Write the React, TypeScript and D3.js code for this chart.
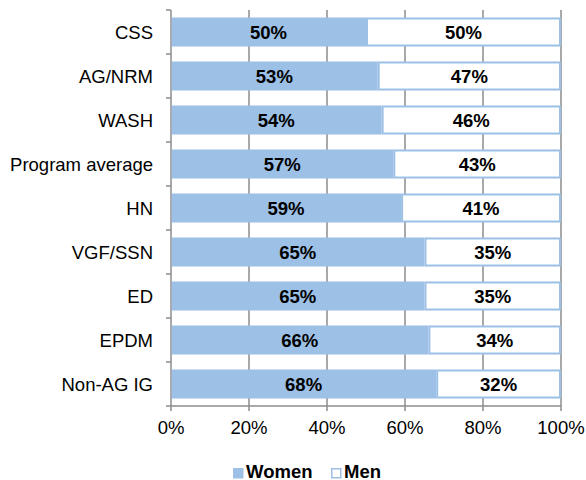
import { useEffect, useRef } from 'react'
import * as d3 from 'd3'

const categories = ['CSS', 'AG/NRM', 'WASH', 'Program average', 'HN', 'VGF/SSN', 'ED', 'EPDM', 'Non-AG IG']
const women = [50, 53, 54, 57, 59, 65, 65, 66, 68]
const men = [50, 47, 46, 43, 41, 35, 35, 34, 32]
const xTicks = [0, 20, 40, 60, 80, 100]
const seriesNames = ['Women', 'Men']

const BLUE = '#9dc0e6'
const GRID = '#8c8c8c'
const FONT = 'Liberation Sans, Arial, sans-serif'
const FS = '18.5px'

const App = () => {
  const svgRef = useRef<SVGSVGElement>(null)
  const width = 586
  const height = 480
  const margin = { top: 10, left: 171, right: 25, bottom: 74 }

  useEffect(() => {
    const svgEl = d3.select(svgRef.current)
    svgEl.selectAll('*').remove()

    const innerW = width - margin.left - margin.right
    const innerH = height - margin.top - margin.bottom

    const x = d3.scaleLinear().domain([0, 100]).range([0, innerW])
    const y = d3.scaleBand().domain(categories).range([0, innerH]).paddingInner(0.34).paddingOuter(0.17)

    const svg = svgEl.append('g').attr('transform', `translate(${margin.left},${margin.top})`)

    // Vertical gridlines
    svg
      .selectAll('.grid')
      .data(xTicks.slice(1))
      .enter()
      .append('line')
      .attr('x1', (d) => x(d))
      .attr('x2', (d) => x(d))
      .attr('y1', 0)
      .attr('y2', innerH + 5)
      .attr('stroke', GRID)
      .attr('stroke-width', 1.5)

    // Left axis with category boundary ticks
    svg.append('line').attr('x1', 0).attr('x2', 0).attr('y1', 0).attr('y2', innerH + 5).attr('stroke', GRID).attr('stroke-width', 1.5)
    const step = y.step()
    svg
      .selectAll('.ytick')
      .data(d3.range(categories.length + 1))
      .enter()
      .append('line')
      .attr('x1', -5)
      .attr('x2', 0)
      .attr('y1', (i) => i * step)
      .attr('y2', (i) => i * step)
      .attr('stroke', GRID)
      .attr('stroke-width', 1.5)
    // Bottom axis
    svg.append('line').attr('x1', 0).attr('x2', innerW).attr('y1', innerH).attr('y2', innerH).attr('stroke', GRID).attr('stroke-width', 1.5)

    // Women bars
    svg
      .selectAll('.women')
      .data(categories)
      .enter()
      .append('rect')
      .attr('x', 0.75)
      .attr('y', (d) => y(d)!)
      .attr('width', (d, i) => x(women[i]) - 0.75)
      .attr('height', y.bandwidth())
      .attr('fill', BLUE)

    // Men bars
    svg
      .selectAll('.men')
      .data(categories)
      .enter()
      .append('rect')
      .attr('x', (d, i) => x(women[i]) + 1)
      .attr('y', (d) => y(d)! + 1)
      .attr('width', (d, i) => x(men[i]) - 2)
      .attr('height', y.bandwidth() - 2)
      .attr('fill', '#fff')
      .attr('stroke', BLUE)
      .attr('stroke-width', 2)

    // Value and category labels
    categories.forEach((c, i) => {
      const cy = y(c)! + y.bandwidth() / 2
      const addLabel = (lx: number, txt: string, bold: boolean, anchor: string) =>
        svg
          .append('text')
          .attr('x', lx)
          .attr('y', cy + 6.5)
          .attr('text-anchor', anchor)
          .style('font-family', FONT)
          .style('font-weight', bold ? 'bold' : 'normal')
          .style('font-size', FS)
          .style('fill', '#000')
          .text(txt)
      addLabel(x(women[i] / 2), women[i] + '%', true, 'middle')
      addLabel(x(women[i] + men[i] / 2), men[i] + '%', true, 'middle')
      addLabel(-18, c, false, 'end')
    })

    // X tick labels
    svg
      .selectAll('.xlab')
      .data(xTicks)
      .enter()
      .append('text')
      .attr('x', (d) => x(d))
      .attr('y', innerH + 28)
      .attr('text-anchor', 'middle')
      .style('font-family', FONT)
      .style('font-size', FS)
      .style('fill', '#000')
      .text((d) => d + '%')

    // Legend
    const legend = svgEl.append('g').attr('transform', 'translate(233, 468)')
    const legendX = [0, 98]
    seriesNames.forEach((name, i) => {
      legend
        .append('rect')
        .attr('x', legendX[i] + 0.75)
        .attr('y', 0.75)
        .attr('width', 9)
        .attr('height', 9)
        .attr('fill', i === 0 ? BLUE : '#fff')
        .attr('stroke', BLUE)
        .attr('stroke-width', 1.5)
      legend
        .append('text')
        .attr('x', legendX[i] + 13)
        .attr('y', 9.5)
        .style('font-family', FONT)
        .style('font-weight', 'bold')
        .style('font-size', FS)
        .style('fill', '#000')
        .text(name)
    })
  }, [])

  return (
    <svg
      ref={svgRef}
      width={width}
      height={height}
      style={{ position: 'absolute', left: 0, top: 0, display: 'block' }}
    />
  )
}

export default App
